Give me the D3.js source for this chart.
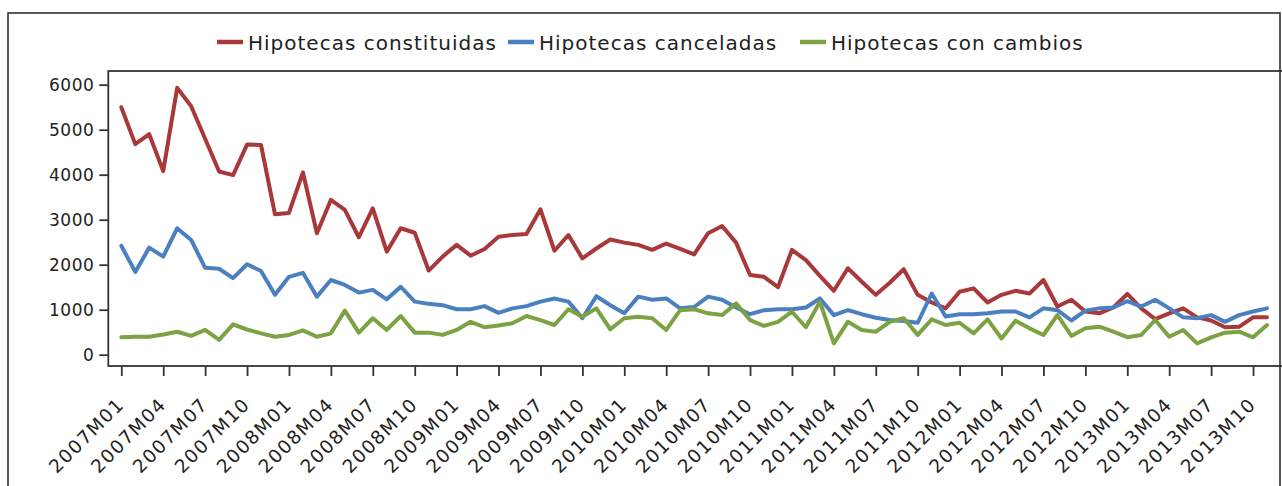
<!DOCTYPE html>
<html><head><meta charset="utf-8">
<script src="https://cdn.jsdelivr.net/npm/d3@7"></script>
<style>
html,body{margin:0;padding:0;background:#fff;}
svg text{font-family:"DejaVu Sans",sans-serif;fill:#222;}
</style></head>
<body><svg id="c" width="1282" height="486"></svg>
<script>
const categories = [
"2007M01","2007M02","2007M03","2007M04","2007M05","2007M06","2007M07","2007M08","2007M09","2007M10","2007M11","2007M12",
"2008M01","2008M02","2008M03","2008M04","2008M05","2008M06","2008M07","2008M08","2008M09","2008M10","2008M11","2008M12",
"2009M01","2009M02","2009M03","2009M04","2009M05","2009M06","2009M07","2009M08","2009M09","2009M10","2009M11","2009M12",
"2010M01","2010M02","2010M03","2010M04","2010M05","2010M06","2010M07","2010M08","2010M09","2010M10","2010M11","2010M12",
"2011M01","2011M02","2011M03","2011M04","2011M05","2011M06","2011M07","2011M08","2011M09","2011M10","2011M11","2011M12",
"2012M01","2012M02","2012M03","2012M04","2012M05","2012M06","2012M07","2012M08","2012M09","2012M10","2012M11","2012M12",
"2013M01","2013M02","2013M03","2013M04","2013M05","2013M06","2013M07","2013M08","2013M09","2013M10","2013M11"];

const constituidas = [5500,4680,4900,4080,5930,5520,4800,4070,3990,4670,4660,3120,
3150,4050,2700,3440,3220,2610,3250,2290,2810,2710,1870,2180,
2440,2200,2350,2620,2660,2680,3230,2310,2660,2140,2360,2560,
2490,2440,2330,2470,2350,2230,2700,2860,2490,1770,1730,1500,
2330,2100,1750,1420,1920,1620,1330,1600,1900,1330,1160,1030,
1400,1475,1160,1330,1420,1360,1660,1070,1220,960,920,1050,
1350,1030,790,920,1030,830,760,610,620,830,830];

const canceladas = [2420,1840,2380,2180,2810,2550,1930,1910,1700,2010,1860,1330,
1730,1820,1290,1660,1550,1380,1440,1230,1510,1180,1130,1100,
1010,1010,1080,930,1030,1080,1180,1250,1180,810,1300,1100,
920,1290,1220,1250,1030,1060,1290,1220,1050,900,990,1010,
1010,1050,1250,880,990,900,820,770,750,710,1360,850,
900,900,920,960,960,830,1030,990,760,980,1030,1050,
1190,1070,1220,1030,830,810,880,730,880,960,1030];

const conCambios = [390,400,400,450,510,420,550,330,675,560,475,400,
440,540,400,475,980,490,810,550,860,490,490,440,
550,730,610,650,700,860,770,660,1010,845,1030,565,
810,845,810,550,990,1010,920,880,1140,770,640,730,
955,610,1180,250,730,550,510,730,810,440,785,660,
710,475,786,360,756,586,438,882,416,586,623,511,
390,438,771,400,549,252,386,489,511,386,660];

const seriesNames = ["Hipotecas constituidas","Hipotecas canceladas","Hipotecas con cambios"];
const seriesColors = ["#a8383a","#4a7fc0","#7ca243"];
const yTicks = [0,1000,2000,3000,4000,5000,6000];
const xTickLabels = ["2007M01","2007M04","2007M07","2007M10","2008M01","2008M04","2008M07","2008M10",
"2009M01","2009M04","2009M07","2009M10","2010M01","2010M04","2010M07","2010M10",
"2011M01","2011M04","2011M07","2011M10","2012M01","2012M04","2012M07","2012M10",
"2013M01","2013M04","2013M07","2013M10"];

const svg = d3.select("#c");
const allSeries = [constituidas, canceladas, conCambios];

// outer border
svg.append("rect").attr("x",8).attr("y",13).attr("width",1272).attr("height",520)
  .attr("fill","none").attr("stroke","#222").attr("stroke-width",1.5);

const x = d3.scalePoint().domain(categories).range([121.3, 1267]);
const y = d3.scaleLinear().domain([0,6000]).range([354.7, 84.7]);

// plot frame
svg.append("rect").attr("x",108.3).attr("y",71).attr("width",1200).attr("height",295)
  .attr("fill","none").attr("stroke","#333").attr("stroke-width",1.8);

// y axis
const yAxis = d3.axisLeft(y).tickValues(yTicks).tickSize(9).tickPadding(5).tickFormat(d3.format("d"));
const gy = svg.append("g").attr("transform","translate(108.3,0)").call(yAxis);
gy.select(".domain").remove();
gy.selectAll(".tick line").attr("stroke","#333").attr("stroke-width",1.8);
gy.selectAll("text").attr("font-size","17px").attr("letter-spacing","0.5px").attr("fill","#222")
  .style("font-family","DejaVu Sans");

// x axis
const xAxis = d3.axisBottom(x).tickValues(xTickLabels).tickSize(10).tickFormat(d=>d);
const gx = svg.append("g").attr("transform","translate(0,366)").call(xAxis);
gx.select(".domain").remove();
gx.selectAll(".tick line").attr("stroke","#333").attr("stroke-width",1.8);
gx.selectAll("text").attr("font-size","18.5px").attr("letter-spacing","1.5px").attr("fill","#222")
  .style("font-family","DejaVu Sans")
  .attr("text-anchor","end").attr("y",0).attr("dy","0.35em")
  .attr("transform","translate(-1,35) rotate(-45)");

// lines
const line = d3.line().x((d,i)=>x(categories[i])).y(d=>y(d));
allSeries.forEach((s,k)=>{
  svg.append("path").datum(s).attr("d",line).attr("fill","none")
    .attr("stroke",seriesColors[k]).attr("stroke-width",4)
    .attr("stroke-linejoin","round").attr("stroke-linecap","round");
});

// legend
const legendX = [217, 508, 800];
const lg = svg.append("g");
seriesNames.forEach((n,k)=>{
  const lx = legendX[k];
  lg.append("line").attr("x1",lx).attr("x2",lx+26).attr("y1",42).attr("y2",42)
    .attr("stroke",seriesColors[k]).attr("stroke-width",4.5);
  lg.append("text").attr("x",lx+31).attr("y",49.5).attr("font-size","20px")
    .attr("letter-spacing","1px").text(n);
});
</script></body></html>
